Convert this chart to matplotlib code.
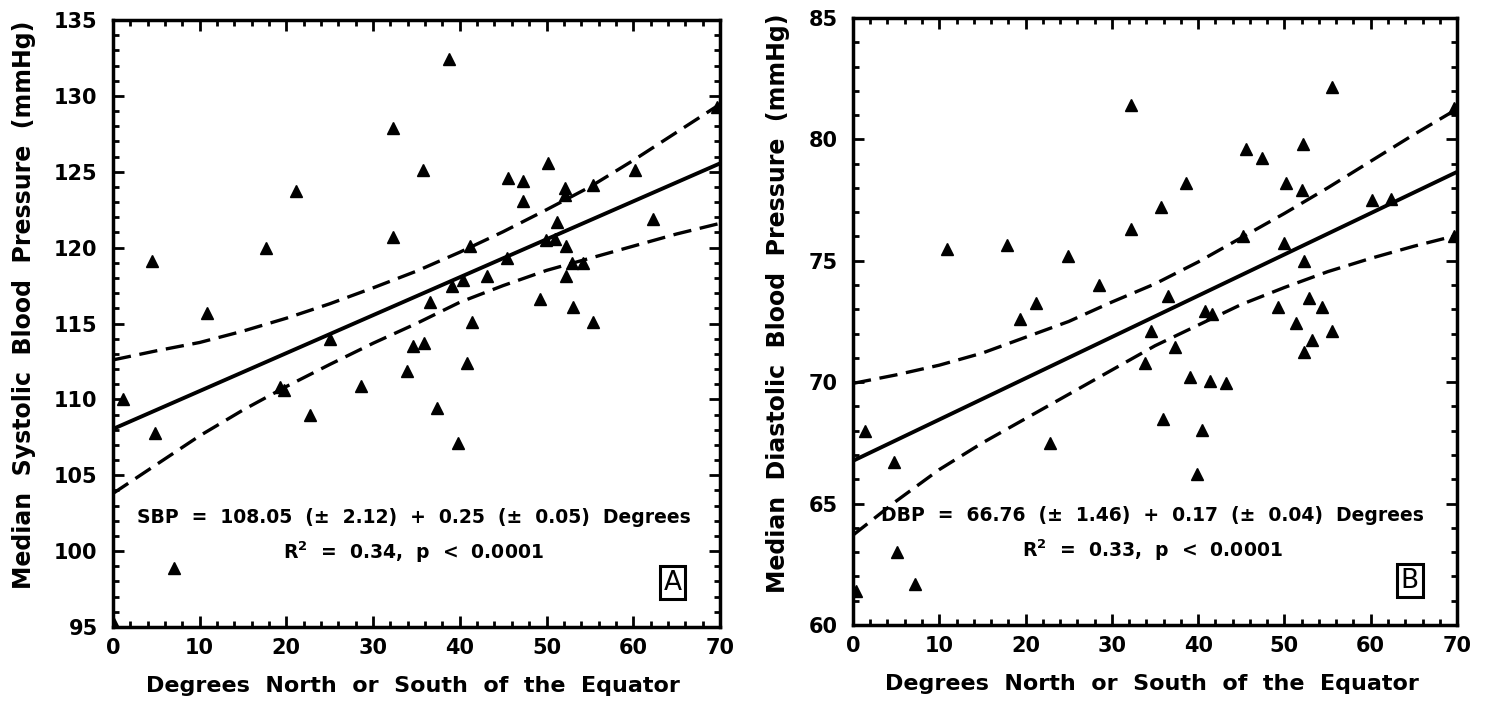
import numpy as np
import matplotlib
matplotlib.use('Agg')
import matplotlib.pyplot as plt

plt.rcParams['font.family'] = ['DejaVu Sans']
plt.rcParams['font.weight'] = 'bold'
plt.rcParams['axes.labelweight'] = 'bold'

# 数据: 纬度 与 收缩压 (A)
sbp_deg = [0.0, 1.2, 4.5, 4.8, 7.0, 10.8, 17.7, 19.3, 19.7, 21.1, 22.7, 25.0, 28.6,
           32.3, 32.3, 33.9, 34.6, 35.7, 35.9, 36.6, 37.4, 38.7, 39.1, 39.8, 40.4,
           40.8, 41.2, 41.4, 43.1, 45.4, 45.6, 47.3, 47.3, 49.3, 49.9, 50.2, 51.0,
           51.2, 52.1, 52.1, 52.3, 52.3, 52.9, 53.1, 54.2, 55.4, 55.4, 60.2, 62.3, 69.7]
sbp_val = [95.3, 110.0, 119.1, 107.8, 98.9, 115.7, 120.0, 110.8, 110.6, 123.7, 109.0, 114.0, 110.9,
           127.9, 120.7, 111.9, 113.5, 125.1, 113.7, 116.4, 109.4, 132.4, 117.5, 107.1, 117.9,
           112.4, 120.1, 115.1, 118.1, 119.3, 124.6, 124.4, 123.1, 116.6, 120.5, 125.6, 120.6,
           121.7, 123.9, 123.5, 120.1, 118.1, 119.0, 116.1, 119.0, 124.1, 115.1, 125.1, 121.9, 129.3]

# 数据: 纬度 与 舒张压 (B)
dbp_deg = [0.4, 1.4, 4.75, 5.1, 7.2, 10.9, 17.8, 19.4, 21.2, 22.8, 24.9, 28.5, 32.2,
           32.2, 33.8, 34.5, 35.7, 35.9, 36.5, 37.3, 38.6, 39.0, 39.9, 40.4, 40.8,
           41.4, 41.6, 43.2, 45.2, 45.6, 47.4, 49.3, 49.9, 50.2, 51.3, 52.0, 52.2,
           52.3, 52.3, 52.8, 53.2, 54.4, 55.5, 55.5, 60.2, 62.3, 69.7, 69.7]
dbp_val = [61.4, 68.0, 66.7, 63.0, 61.7, 75.5, 75.65, 72.6, 73.25, 67.5, 75.2, 74.0, 81.4,
           76.3, 70.8, 72.1, 77.2, 68.5, 73.55, 71.45, 78.2, 70.2, 66.2, 68.05, 72.95,
           70.05, 72.8, 69.95, 76.0, 79.6, 79.25, 73.1, 75.75, 78.2, 72.45, 77.9, 79.8,
           75.0, 71.25, 73.45, 71.75, 73.1, 82.15, 72.1, 77.5, 77.55, 81.3, 76.0]

# 回归线 (图中给出的方程)
sbp_fit = (108.05, 0.25)
dbp_fit = (66.76, 0.17)

# 95% 置信带
band_deg = [0, 5, 10, 15, 20, 25, 30, 35, 40, 45, 50, 55, 60, 65, 70]
sbp_upper = [112.6, 113.2, 113.75, 114.5, 115.35, 116.3, 117.35, 118.45, 119.7, 121.05,
             122.5, 124.0, 125.75, 127.6, 129.45]
sbp_lower = [103.8, 105.7, 107.6, 109.3, 110.85, 112.3, 113.7, 115.0, 116.4, 117.5,
             118.5, 119.3, 120.1, 120.9, 121.6]
dbp_upper = [69.95, 70.3, 70.7, 71.2, 71.85, 72.5, 73.3, 74.05, 74.95, 75.95,
             76.95, 78.0, 79.1, 80.2, 81.25]
dbp_lower = [63.7, 65.1, 66.4, 67.5, 68.5, 69.5, 70.5, 71.5, 72.35, 73.2,
             73.9, 74.55, 75.1, 75.6, 76.05]

fig = plt.figure(figsize=(14.86, 7.02), dpi=100)
ax1 = fig.add_axes([0.0760, 0.1068, 0.4085, 0.8647])
ax2 = fig.add_axes([0.5740, 0.1097, 0.4065, 0.8647])


def draw_panel(ax, deg, val, fit, upper, lower, ylim, ylabel, eq, r2, letter, ylab_x):
    ax.plot(deg, val, '^', color='black', ms=8.5, zorder=3)
    xx = np.array([0, 70])
    ax.plot(xx, fit[0] + fit[1] * xx, color='black', lw=2.8, solid_capstyle='butt')
    ax.plot(band_deg, upper, color='black', lw=2.4, dashes=(5.5, 2.6))
    ax.plot(band_deg, lower, color='black', lw=2.4, dashes=(5.5, 2.6))

    ax.set_xlim(0, 70)
    ax.set_ylim(ylim)
    ax.set_xticks(np.arange(0, 71, 10))
    ax.set_xticks(np.arange(0, 71, 2), minor=True)
    ax.set_yticks(np.arange(ylim[0], ylim[1] + 1, 5))
    ax.set_yticks(np.arange(ylim[0], ylim[1] + 1, 1), minor=True)
    ax.tick_params(which='both', direction='in', top=True, right=True, width=2)
    ax.tick_params(which='major', length=8, labelsize=15)
    ax.tick_params(axis='x', which='major', pad=8)
    ax.tick_params(axis='y', which='major', pad=11)
    ax.tick_params(which='minor', length=4.5)
    for s in ax.spines.values():
        s.set_linewidth(2.5)

    ax.set_xlabel('Degrees  North  or  South  of  the  Equator', fontsize=16)
    ax.xaxis.set_label_coords(0.495, -0.08)
    ax.set_ylabel(ylabel, fontsize=17)
    ax.yaxis.set_label_coords(ylab_x, 0.53)

    ax.text(0.495, 0.18, eq, transform=ax.transAxes, ha='center', va='center', fontsize=13.5)
    ax.text(0.495, 0.123, r2, transform=ax.transAxes, ha='center', va='center', fontsize=13.5)
    ax.text(0.922, 0.073, letter, transform=ax.transAxes, ha='center', va='center', fontsize=19,
            fontweight='normal',
            bbox=dict(boxstyle='square,pad=0.14', facecolor='white', edgecolor='black', lw=2.2))


draw_panel(ax1, sbp_deg, sbp_val, sbp_fit, sbp_upper, sbp_lower, (95, 135),
           'Median  Systolic  Blood  Pressure  (mmHg)',
           'SBP  =  108.05  (±  2.12)  +  0.25  (±  0.05)  Degrees',
           'R$^2$  =  0.34,  p  <  0.0001', 'A', -0.127)
draw_panel(ax2, dbp_deg, dbp_val, dbp_fit, dbp_upper, dbp_lower, (60, 85),
           'Median  Diastolic  Blood  Pressure  (mmHg)',
           'DBP  =  66.76  (±  1.46)  +  0.17  (±  0.04)  Degrees',
           'R$^2$  =  0.33,  p  <  0.0001', 'B', -0.104)

fig.savefig('out.png', dpi=100)
